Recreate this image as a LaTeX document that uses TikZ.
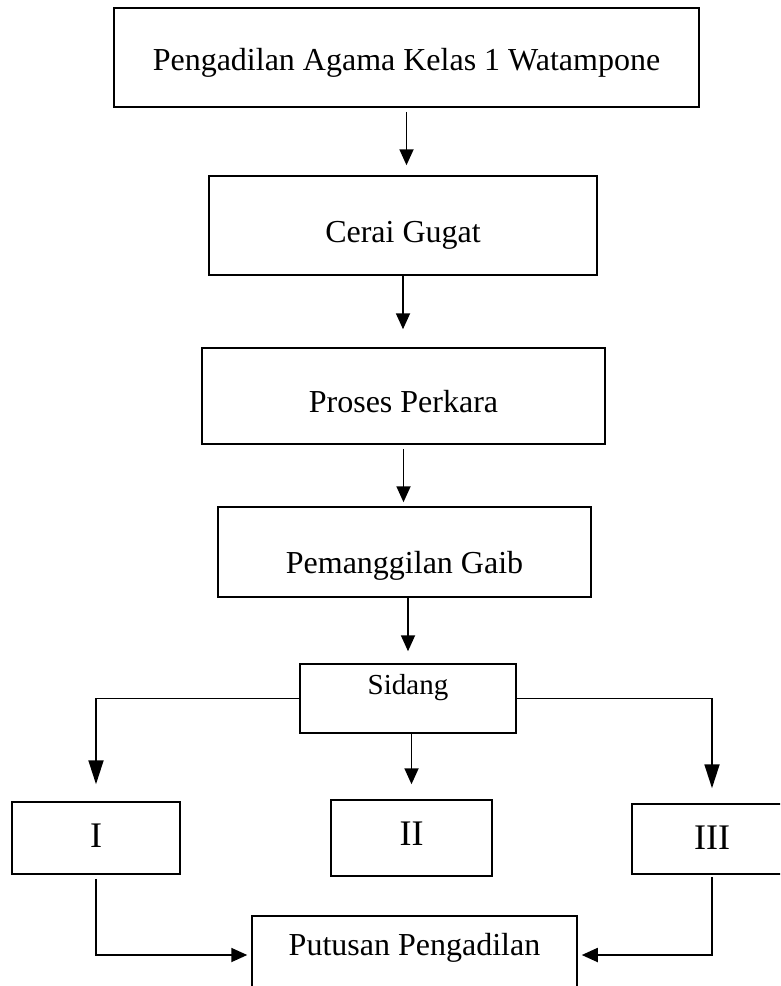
\documentclass[tikz,border=0pt]{standalone}
\usepackage{fontspec}
\setmainfont{Liberation Serif}
\usetikzlibrary{arrows.meta}

\begin{document}
\begin{tikzpicture}[x=1pt, y=-1pt,
    box/.style={draw, line width=1.5pt, inner sep=0pt, anchor=base, font=\fontsize{32}{36}\selectfont},
    arr/.style={line width=1.8pt, -{Triangle[length=16pt, width=14pt]}},
    longarr/.style={line width=1.8pt, -{Triangle[length=24pt, width=15pt]}}]
      \useasboundingbox (0,0) rectangle (780,986);
      \clip (0,0) rectangle (780,986);

      \node[box, minimum width=585pt, text height=62pt, text depth=37pt] at (406.5, 70)  (pengadilan) {Pengadilan Agama Kelas 1 Watampone};
      \node[box, minimum width=388pt, text height=66pt, text depth=33pt] at (403, 242)   (cerai)      {Cerai Gugat};
      \node[box, minimum width=403pt, text height=64pt, text depth=32pt] at (403.5, 412) (proses)     {Proses Perkara};
      \node[box, minimum width=373pt, text height=66pt, text depth=24pt] at (404.5, 573) (panggil)    {Pemanggilan Gaib};
      \node[box, minimum width=216pt, text height=30pt, text depth=39pt, font=\fontsize{29}{33}\selectfont] at (408, 694) (sidang) {Sidang};

      \node[box, minimum width=168pt, text height=45pt, text depth=27pt, font=\fontsize{36}{40}\selectfont] at (96, 847)    (satu)  {I};
      \node[box, minimum width=161pt, text height=45pt, text depth=31pt, font=\fontsize{36}{40}\selectfont] at (411.5, 845) (dua)   {II};
      \node[box, minimum width=160pt, text height=45pt, text depth=25pt, font=\fontsize{36}{40}\selectfont] at (712, 849)   (tiga)  {III};

      \node[box, minimum width=325pt, text height=39pt, text depth=39pt] at (414.5, 955) (putusan) {Putusan Pengadilan};

      \draw[arr, shorten <=4pt, shorten >=10pt] (pengadilan.south) -- (pengadilan.south |- cerai.north);
      \draw[arr, shorten >=18pt] (cerai.south) -- (cerai.south |- proses.north);
      \draw[arr, shorten <=4pt, shorten >=4pt] (proses.south) -- (proses.south |- panggil.north);
      \draw[arr, shorten >=12pt] (sidang.north |- panggil.south) -- (sidang.north);

      \draw[longarr, shorten >=17pt] (sidang.west) -| (satu.north);
      \draw[arr, shorten >=15pt] (dua.north |- sidang.south) -- (dua.north);
      \draw[longarr, shorten >=15pt] (sidang.east) -| (tiga.north);

      \draw[arr, shorten <=4pt, shorten >=4pt] (satu.south) |- (putusan.west);
      \draw[arr, shorten <=2pt, shorten >=4pt] (tiga.south) |- (putusan.east);
\end{tikzpicture}
\end{document}
